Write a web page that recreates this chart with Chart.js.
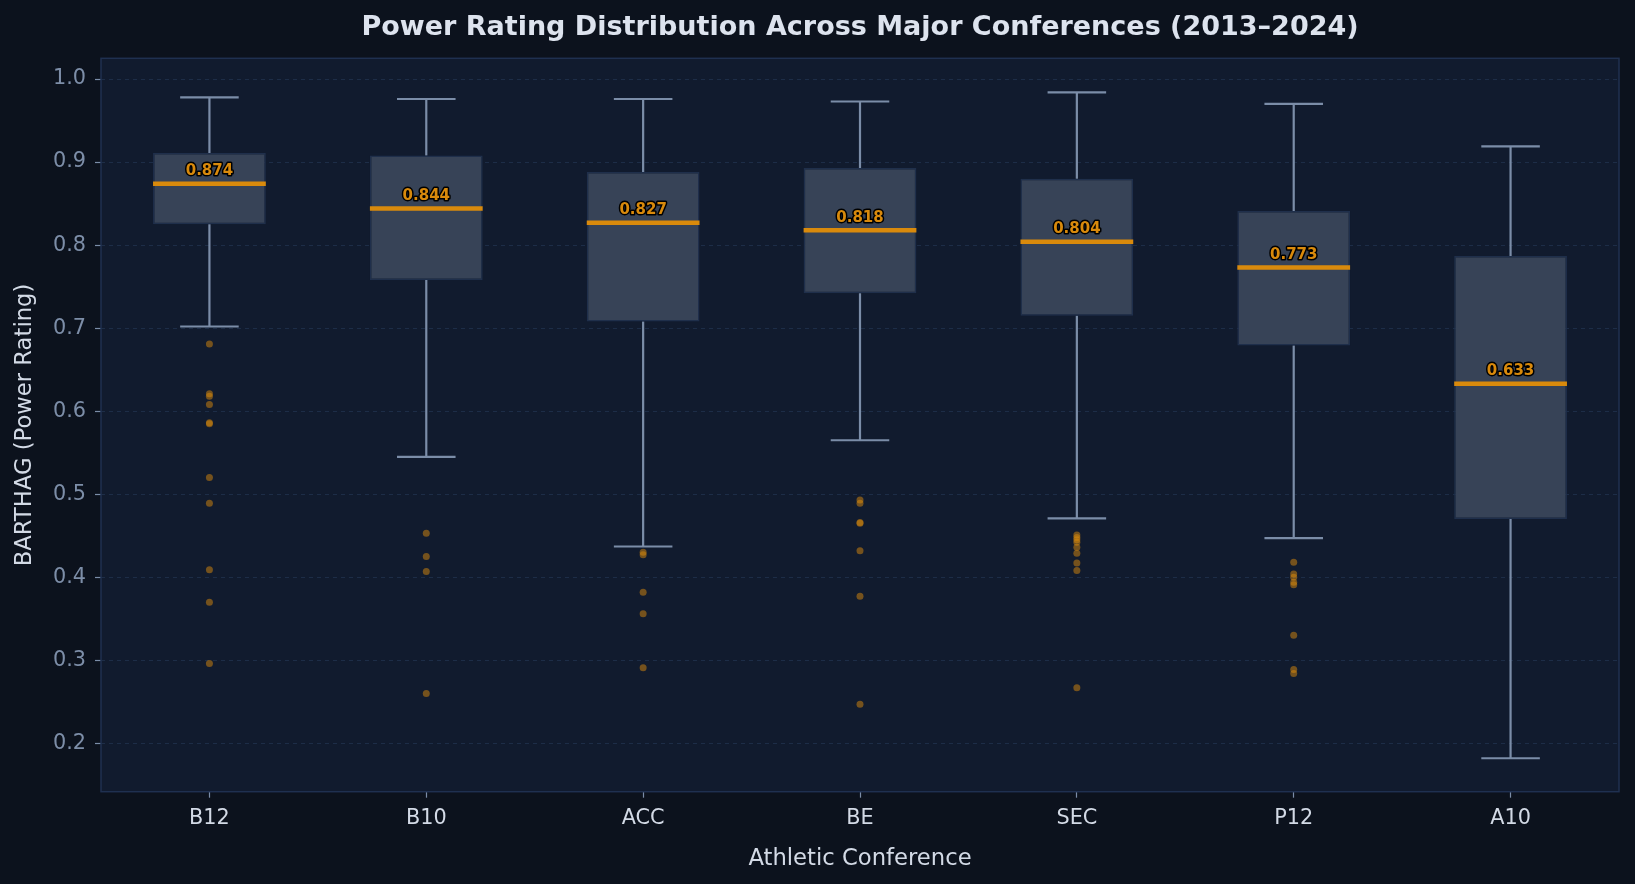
<!DOCTYPE html>
<html>
<head>
<meta charset="utf-8">
<script src="https://cdn.jsdelivr.net/npm/chart.js@4.4.1/dist/chart.umd.min.js"></script>
<style>
  html, body { margin: 0; padding: 0; background: #0c121d; }
  #wrap { width: 1635px; height: 884px; }
</style>
</head>
<body>
<div id="wrap"><canvas id="c" width="1635" height="884"></canvas></div>
<script>
const categories = ['B12', 'B10', 'ACC', 'BE', 'SEC', 'P12', 'A10'];
const q1Values     = [0.825, 0.758, 0.708, 0.742, 0.715, 0.679, 0.470];
const q3Values     = [0.911, 0.908, 0.888, 0.893, 0.880, 0.841, 0.787];
const medianValues = [0.874, 0.844, 0.827, 0.818, 0.804, 0.773, 0.633];
const whiskerLow   = [0.702, 0.545, 0.437, 0.565, 0.471, 0.447, 0.182];
const whiskerHigh  = [0.978, 0.976, 0.976, 0.973, 0.984, 0.970, 0.919];
const outliersB12 = [0.681, 0.621, 0.618, 0.608, 0.586, 0.585, 0.520, 0.489, 0.409, 0.370, 0.296];
const outliersB10 = [0.453, 0.425, 0.407, 0.260];
const outliersACC = [0.430, 0.427, 0.382, 0.356, 0.291];
const outliersBE  = [0.493, 0.489, 0.466, 0.465, 0.432, 0.377, 0.247];
const outliersSEC = [0.451, 0.448, 0.445, 0.442, 0.436, 0.429, 0.417, 0.408, 0.267];
const outliersP12 = [0.418, 0.404, 0.400, 0.394, 0.391, 0.330, 0.289, 0.284];
const outliersA10 = [];
const yTicks = [0.2, 0.3, 0.4, 0.5, 0.6, 0.7, 0.8, 0.9, 1.0];
const yMin = 0.1417, yMax = 1.025;

const outlierLists = [outliersB12, outliersB10, outliersACC, outliersBE, outliersSEC, outliersP12, outliersA10];
const outlierPoints = [];
outlierLists.forEach((list, i) => list.forEach(v => outlierPoints.push({x: categories[i], y: v})));

const FONT = "'DejaVu Sans', 'Liberation Sans', sans-serif";

const boxPlugin = {
  id: 'boxExtras',
  beforeDraw(chart) {
    const {ctx, chartArea: a} = chart;
    ctx.save();
    ctx.fillStyle = '#0c121d';
    ctx.fillRect(0, 0, chart.width, chart.height);
    ctx.fillStyle = '#111b2e';
    ctx.fillRect(a.left, a.top, a.right - a.left, a.bottom - a.top);
    ctx.restore();
  },
  beforeDatasetsDraw(chart) {
    const {ctx} = chart;
    const xs = chart.scales.x, ys = chart.scales.y;
    const catW = xs.getPixelForValue(1) - xs.getPixelForValue(0);
    const capHalf = catW * 0.135;
    ctx.save();
    ctx.strokeStyle = '#7b8da8';
    ctx.lineWidth = 2.2;
    categories.forEach((c, i) => {
      const x = xs.getPixelForValue(i);
      const yl = ys.getPixelForValue(whiskerLow[i]);
      const yh = ys.getPixelForValue(whiskerHigh[i]);
      const y1 = ys.getPixelForValue(q1Values[i]);
      const y3 = ys.getPixelForValue(q3Values[i]);
      ctx.beginPath();
      ctx.moveTo(x, y3); ctx.lineTo(x, yh);
      ctx.moveTo(x, y1); ctx.lineTo(x, yl);
      ctx.moveTo(x - capHalf, yh); ctx.lineTo(x + capHalf, yh);
      ctx.moveTo(x - capHalf, yl); ctx.lineTo(x + capHalf, yl);
      ctx.stroke();
    });
    ctx.restore();
  },
  afterDatasetsDraw(chart) {
    const {ctx} = chart;
    const xs = chart.scales.x, ys = chart.scales.y;
    const meta = chart.getDatasetMeta(0);
    ctx.save();
    categories.forEach((c, i) => {
      const bar = meta.data[i];
      const half = bar.width / 2;
      const x = xs.getPixelForValue(i);
      const ym = ys.getPixelForValue(medianValues[i]);
      ctx.strokeStyle = '#d98a0c';
      ctx.lineWidth = 4.5;
      ctx.beginPath();
      ctx.moveTo(x - half, ym); ctx.lineTo(x + half, ym);
      ctx.stroke();
      ctx.font = 'bold 15px ' + FONT;
      ctx.textAlign = 'center';
      ctx.textBaseline = 'alphabetic';
      ctx.lineJoin = 'round';
      ctx.lineWidth = 3;
      ctx.strokeStyle = '#000000';
      const t = medianValues[i].toFixed(3);
      ctx.strokeText(t, x, ym - 8.5);
      ctx.fillStyle = '#d98a0c';
      ctx.fillText(t, x, ym - 8.5);
    });
    ctx.restore();
  },
  afterDraw(chart) {
    const {ctx, chartArea: a} = chart;
    ctx.save();
    ctx.strokeStyle = '#1f3050';
    ctx.lineWidth = 1.5;
    ctx.strokeRect(a.left, a.top, a.right - a.left, a.bottom - a.top);
    ctx.restore();
  }
};

new Chart(document.getElementById('c'), {
  type: 'bar',
  data: {
    labels: categories,
    datasets: [
      {
        type: 'bar',
        data: categories.map((c, i) => [q1Values[i], q3Values[i]]),
        backgroundColor: '#374357',
        borderColor: '#1f2f4b',
        borderWidth: 1.5,
        borderSkipped: false,
        barPercentage: 0.52,
        categoryPercentage: 1.0,
        order: 2
      },
      {
        type: 'scatter',
        data: outlierPoints,
        backgroundColor: 'rgba(217,138,12,0.5)',
        borderWidth: 0,
        pointRadius: 3.5,
        order: 1
      }
    ]
  },
  options: {
    responsive: false,
    animation: false,
    devicePixelRatio: 1,
    layout: { padding: { left: 0, right: 16, top: 0, bottom: 0 } },
    plugins: {
      legend: { display: false },
      tooltip: { enabled: false },
      title: {
        display: true,
        fullSize: false,
        text: 'Power Rating Distribution Across Major Conferences (2013–2024)',
        color: '#dde3ee',
        font: { family: FONT, size: 27, weight: 'bold', lineHeight: 1.2 },
        padding: { top: 11.8, bottom: 14.1 }
      }
    },
    scales: {
      x: {
        type: 'category',
        offset: true,
        grid: { display: true, offset: false, drawOnChartArea: false, drawTicks: true, tickLength: 6, tickColor: '#7b8da8', tickWidth: 1.2, color: 'rgba(0,0,0,0)' },
        border: { display: false },
        ticks: { color: '#d3dae6', font: { family: FONT, size: 20.8 }, padding: 8 },
        title: {
          display: true, text: 'Athletic Conference', color: '#d3dae6',
          font: { family: FONT, size: 22.7, lineHeight: 1.2 },
          padding: { top: 0, bottom: 11.4 }
        },
        afterFit(scale) { scale.height = 92.3; }
      },
      y: {
        type: 'linear',
        min: yMin, max: yMax,
        afterBuildTicks(scale) { scale.ticks = yTicks.map(v => ({ value: v })); },
        grid: { display: true, drawOnChartArea: true, color: 'rgba(40,60,92,0.55)', lineWidth: 1, drawTicks: true, tickLength: 6, tickColor: '#7b8da8', tickWidth: 1.2, tickBorderDash: [] },
        border: { display: false, dash: [4, 4] },
        ticks: {
          color: '#7d8ea8', font: { family: FONT, size: 20.8 }, padding: 9,
          callback: (v) => Number(v).toFixed(1)
        },
        title: {
          display: true, text: 'BARTHAG (Power Rating)', color: '#d3dae6',
          font: { family: FONT, size: 22.7, lineHeight: 1.2 },
          padding: { top: 11.4, bottom: 0 }
        },
        afterFit(scale) { scale.width = 101; }
      }
    }
  },
  plugins: [boxPlugin]
});
</script>
</body>
</html>
